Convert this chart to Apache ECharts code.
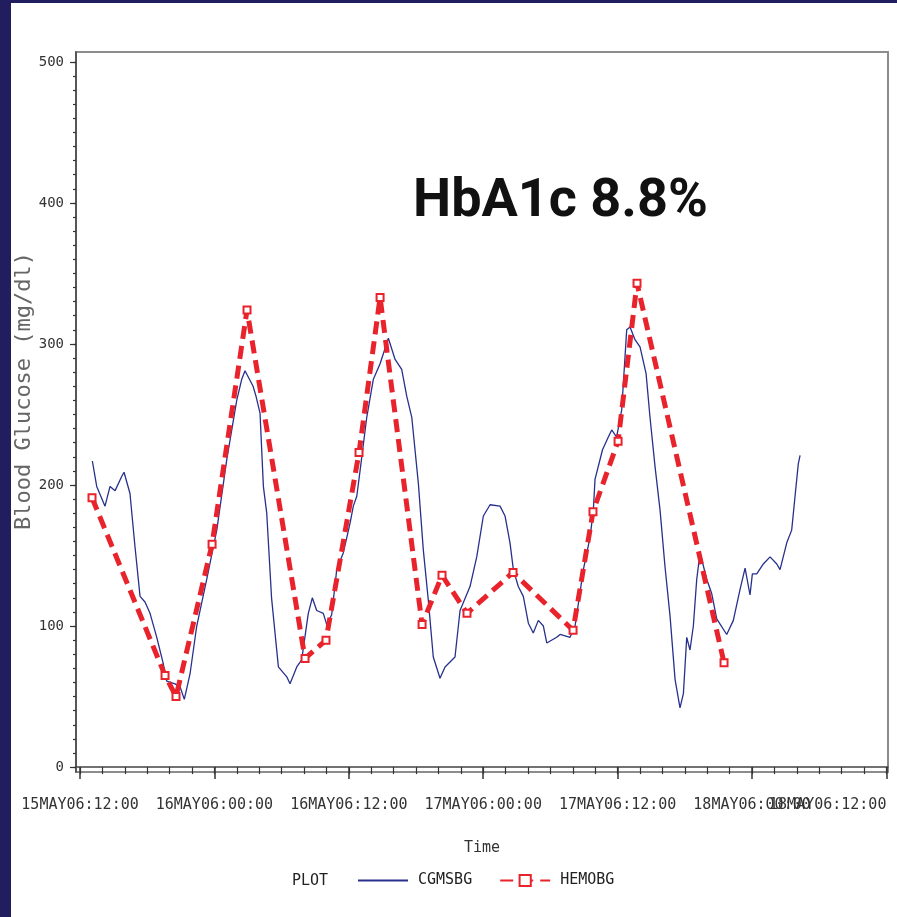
<!DOCTYPE html>
<html>
<head>
<meta charset="utf-8">
<title>HbA1c 8.8% - Blood Glucose</title>
<script src="https://cdn.jsdelivr.net/npm/echarts@6/dist/echarts.min.js"></script>
<style>
  html, body { margin: 0; padding: 0; }
  body { width: 897px; height: 917px; background: #211d5e; position: relative; overflow: hidden; }
  #chart { position: absolute; left: 11px; top: 3px; width: 886px; height: 914px; background: #fff; }
</style>
</head>
<body>
<div id="chart"></div>
<script>
// time is in hours counted from 15MAY06 00:00
const cgmHours = [
  13.10, 13.49, 14.23, 14.68, 15.13, 15.72, 15.93, 16.46, 16.91, 17.36, 17.80, 18.25, 18.85, 19.41, 19.74,
  20.48, 20.93, 21.31, 21.82, 22.42, 23.31, 24.21, 25.10, 25.99, 26.44, 26.73, 27.45, 27.71, 28.07, 28.37,
  28.67, 29.10, 29.71, 30.46, 30.75, 31.35, 31.79, 32.38, 32.74, 33.13, 33.72, 34.03, 34.47, 34.92, 35.51,
  36.11, 36.40, 36.71, 37.00, 37.60, 38.19, 38.79, 39.53, 40.13, 40.72, 41.17, 41.62, 42.21, 42.65, 43.10,
  43.54, 44.14, 44.59, 45.48, 45.93, 46.82, 47.42, 48.01, 48.61, 49.50, 49.95, 50.39, 50.69, 51.13, 51.58,
  52.03, 52.47, 52.92, 53.37, 53.67, 54.56, 54.86, 55.75, 56.20, 56.94, 57.54, 57.83, 57.98, 58.65, 59.17,
  59.47, 59.91, 60.36, 60.81, 61.11, 61.55, 62.00, 62.54, 62.89, 63.34, 63.79, 64.23, 64.68, 65.13, 65.57,
  65.87, 66.17, 66.46, 66.76, 67.06, 67.36, 67.96, 68.40, 68.85, 69.74, 70.33, 70.93, 71.38, 71.82, 72.03,
  72.42, 73.01, 73.61, 74.21, 74.50, 75.10, 75.54, 75.84, 76.13, 76.29
];
const cgmValues = [
  217, 199, 185, 199, 196, 206, 209, 194, 156, 121, 117, 109, 92, 74, 61,
  59, 57, 48, 66, 100, 133, 168, 218, 260, 275, 281, 270, 263, 251, 199,
  180, 120, 71, 64, 59, 71, 76, 109, 120, 111, 109, 101, 108, 140, 152,
  173, 185, 192, 210, 248, 275, 286, 304, 289, 282, 263, 248, 201, 154, 118,
  78, 63, 71, 78, 111, 128, 149, 178, 186, 185, 178, 159, 140, 128, 121,
  102, 95, 104, 100, 88, 92, 94, 92, 100, 140, 163, 182, 204, 225, 234,
  239, 234, 253, 310, 312, 303, 298, 279, 248, 213, 182, 142, 107, 62, 42,
  52, 92, 83, 100, 133, 152, 133, 123, 105, 94, 104, 126, 141, 122, 137,
  137, 144, 149, 144, 140, 159, 168, 192, 215, 221
];
const hemoHours = [13.07, 19.59, 20.57, 23.79, 26.91, 32.09, 33.96, 36.91, 38.79, 42.54, 44.32, 46.55, 50.66, 56.02, 57.80, 60.04, 61.73, 69.50];
const hemoValues = [191, 65, 50, 158, 324, 77, 90, 223, 333, 101, 136, 109, 138, 97, 181, 231, 343, 74];

const xTickHours = [12, 24, 36, 48, 60, 72, 84];
const xTickLabels = ['15MAY06:12:00', '16MAY06:00:00', '16MAY06:12:00', '17MAY06:00:00', '17MAY06:12:00', '18MAY06:00:00', '18MAY06:12:00'];
const yTicks = [0, 100, 200, 300, 400, 500];

// minor ticks: every 2 hours, every 10 mg/dl
const xMinor = [];
for (let h = 12; h <= 84; h += 2) xMinor.push(h);
const yMinor = [];
for (let v = 0; v <= 500; v += 10) yMinor.push(v);

const monoFont = "'DejaVu Sans Mono', 'Liberation Mono', monospace";
const xMin = 11.64, xMax = 84.14, yMin = -3.5, yMax = 507;

const lastHour = xTickHours[xTickHours.length - 1];
const tickLabel = (val) => {
  const i = xTickHours.indexOf(Math.round(val));
  return i >= 0 ? xTickLabels[i] : '';
};

const chart = echarts.init(document.getElementById('chart'));

const option = {
  animation: false,
  backgroundColor: '#fff',
  grid: {
    left: 65, right: 9, top: 49, bottom: 145,
    outerBoundsMode: 'none', containLabel: false,
    show: true, borderColor: '#8c8c8c', borderWidth: 2
  },
  graphic: [
    {
      type: 'text', x: 402, y: 199,
      style: {
        text: 'HbA1c 8.8%', fill: '#111',
        font: "bold 54px Roboto, 'Liberation Sans', sans-serif",
        verticalAlign: 'middle'
      }
    },
    {
      type: 'text', x: 13, y: 388, rotation: Math.PI / 2,
      style: {
        text: 'Blood Glucose (mg/dl)', fill: '#666',
        font: '22px ' + monoFont,
        align: 'center', verticalAlign: 'middle'
      }
    },
    {
      type: 'text', x: 281, y: 878,
      style: { text: 'PLOT', fill: '#222', font: '15px ' + monoFont, verticalAlign: 'middle' }
    }
  ],
  legend: {
    left: 346, top: 870, padding: 0,
    itemWidth: 50, itemHeight: 14, itemGap: 27,
    textStyle: { fontFamily: monoFont, fontSize: 15, color: '#222', padding: [0, 0, 0, 5] },
    data: [
      { name: 'CGMSBG', itemStyle: { color: 'rgba(0,0,0,0)', borderWidth: 0, opacity: 0 } },
      { name: 'HEMOBG' }
    ]
  },
  xAxis: [
    {
      type: 'value', min: xMin, max: xMax,
      name: 'Time', nameLocation: 'middle', nameGap: 69,
      nameTextStyle: { fontFamily: monoFont, fontSize: 15, color: '#333' },
      axisLine: { lineStyle: { color: '#444', width: 1.5 } },
      axisTick: { customValues: xTickHours, length: 12, lineStyle: { color: '#333', width: 1.5 } },
      axisLabel: {
        customValues: xTickHours.slice(0, -1), margin: 26,
        fontFamily: monoFont, fontSize: 15, color: '#333',
        formatter: tickLabel
      },
      splitLine: { show: false }
    },
    {
      // minor ticks, plus the last date label, which overlaps its neighbour as in the original
      type: 'value', min: xMin, max: xMax, position: 'bottom',
      axisLine: { show: false },
      axisTick: { customValues: xMinor, length: 7, lineStyle: { color: '#333', width: 1.2 } },
      axisLabel: {
        customValues: [lastHour], margin: 26,
        fontFamily: monoFont, fontSize: 15, color: '#333',
        showMaxLabel: true, showMinLabel: true,
        alignMinLabel: 'right', alignMaxLabel: 'right',
        formatter: tickLabel
      },
      splitLine: { show: false }
    }
  ],
  yAxis: [
    {
      type: 'value', min: yMin, max: yMax,
      axisLine: { show: true, lineStyle: { color: '#444', width: 1.5 } },
      axisTick: { show: true, customValues: yTicks, length: 6, lineStyle: { color: '#333', width: 1.2 } },
      axisLabel: {
        customValues: yTicks, margin: 12,
        fontFamily: monoFont, fontSize: 14, color: '#333'
      },
      splitLine: { show: false }
    },
    {
      type: 'value', min: yMin, max: yMax, position: 'left',
      axisLine: { show: false },
      axisTick: { show: true, customValues: yMinor, length: 3, lineStyle: { color: '#333', width: 1.2 } },
      axisLabel: { show: false },
      splitLine: { show: false }
    }
  ],
  series: [
    {
      name: 'CGMSBG', type: 'line',
      data: cgmHours.map((h, i) => [h, cgmValues[i]]),
      showSymbol: false, symbol: 'none',
      lineStyle: { color: '#27308c', width: 1.3 },
      itemStyle: { color: '#27308c' }
    },
    {
      name: 'HEMOBG', type: 'line',
      data: hemoHours.map((h, i) => [h, hemoValues[i]]),
      symbol: 'emptyRect', symbolSize: 7,
      lineStyle: { color: '#e8232b', width: 5, type: [13, 7] },
      itemStyle: { color: '#e8232b', borderWidth: 1.2 }
    }
  ]
};

chart.setOption(option);
</script>
</body>
</html>
